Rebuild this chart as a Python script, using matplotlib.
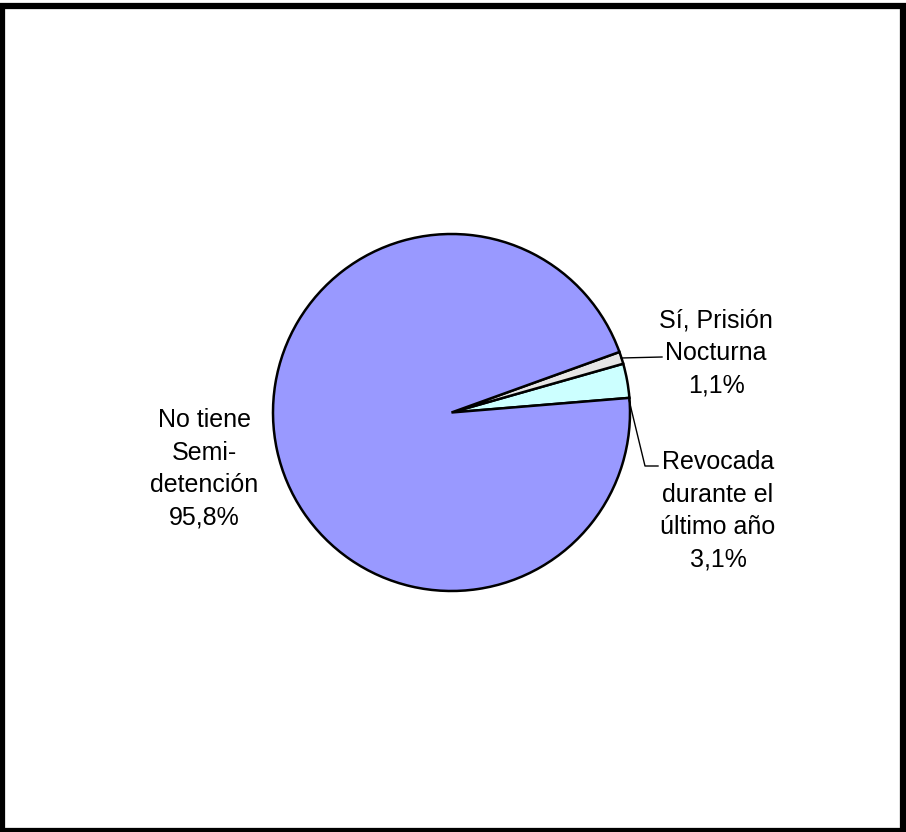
import matplotlib.pyplot as plt
from matplotlib.patches import Rectangle

plt.rcParams['font.family'] = ['Liberation Sans', 'DejaVu Sans']

# datos del gráfico
categorias = ['Revocada\ndurante el\núltimo año', 'Sí, Prisión\nNocturna', 'No tiene\nSemi-\ndetención']
valores = [3.1, 1.1, 95.8]
colores = ['#CCFFFF', '#E6E6E6', '#9999FF']

W, H = 906, 832
fig = plt.figure(figsize=(W / 100, H / 100), dpi=100)
ax = fig.add_axes([0, 0, 1, 1])

cx, cy, r = 451.5, H - 412.5, 178.5
ax.pie(valores, colors=colores, startangle=4.7, counterclock=True,
       center=(cx, cy), radius=r, frame=True,
       wedgeprops=dict(edgecolor='black', linewidth=1.8))
ax.set_xlim(0, W)
ax.set_ylim(0, H)
ax.set_aspect('equal')
ax.axis('off')

def etiqueta(i, x, y):
    txt = f"{categorias[i]}\n{valores[i]:.1f}%".replace('.', ',')
    ax.text(x, H - y, txt, ha='center', va='center', fontsize=18,
            linespacing=1.45)

etiqueta(0, 718, 511)
etiqueta(1, 716, 353)
etiqueta(2, 204, 469)

# líneas guía
ax.plot([621, 662], [H - 358, H - 357], color='black', lw=1)
ax.plot([629, 645, 658], [H - 400, H - 466, H - 466], color='black', lw=1)

# marco
fig.patches.append(Rectangle((1.5 / W, 1.5 / H), (W - 4.5) / W, (H - 7) / H,
                             transform=fig.transFigure, fill=False,
                             edgecolor='black', linewidth=4.5))

fig.savefig('out.png', dpi=100)
